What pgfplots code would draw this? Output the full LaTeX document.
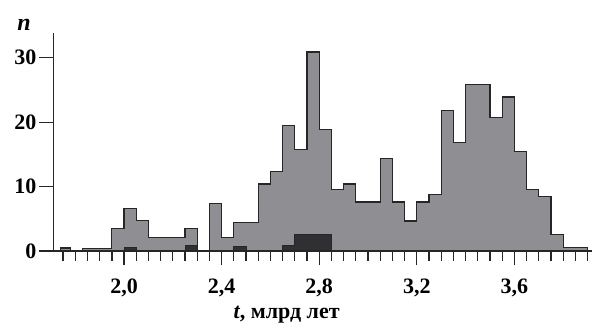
\documentclass[border=0pt]{standalone}
\usepackage{pgfplots}
\pgfplotsset{compat=1.18}
\usepackage{fontspec}
\setmainfont{Liberation Serif}
\definecolor{histgray}{RGB}{142,142,147}
\definecolor{histdark}{RGB}{48,48,51}
\definecolor{edge}{RGB}{38,38,38}
\begin{document}
\begin{tikzpicture}
\begin{axis}[
  scale only axis,
  width=538.7pt, height=217.7pt,
  xmin=1.71, xmax=3.918, ymin=0, ymax=33.8,
  axis x line=bottom, axis y line=left,
  axis line style={-, line width=1.3pt, color=edge},
  axis on top,
  clip=false,
  tick align=outside,
  xtick={2.0,2.4,2.8,3.2,3.6},
  xticklabels={{2,0},{2,4},{2,8},{3,2},{3,6}},
  minor xtick={1.75,1.80,1.85,1.90,1.95,2.05,2.10,2.15,2.20,2.25,2.30,2.35,2.45,2.50,2.55,2.60,2.65,2.70,2.75,2.85,2.90,2.95,3.00,3.05,3.10,3.15,3.25,3.30,3.35,3.40,3.45,3.50,3.55,3.65,3.70,3.75,3.80,3.85,3.90},
  ytick={0,10,20,30},
  major tick length=14.5pt, minor tick length=10pt,
  every tick/.style={edge, line width=1.3pt},
  /pgf/number format/assume math mode=true,
  ticklabel style={font=\fontsize{22}{25}\selectfont\bfseries},
  xticklabel style={yshift=-10pt},
  yticklabel style={xshift=1pt},
]
\addplot[const plot, fill=histgray, draw=edge, line width=1.2pt] coordinates {
(1.74,0.45) (1.78,0) (1.83,0.4) (1.95,3.5) (2.00,6.6) (2.05,4.7) (2.10,2.1)
(2.25,3.5) (2.30,0) (2.35,7.4) (2.40,2.1) (2.45,4.45) (2.55,10.4) (2.60,12.4)
(2.65,19.5) (2.70,15.8) (2.75,30.9) (2.80,18.9) (2.85,9.5) (2.90,10.4) (2.95,7.6)
(3.05,14.3) (3.10,7.6) (3.15,4.66) (3.20,7.6) (3.25,8.8) (3.30,21.8) (3.35,16.8)
(3.40,25.9) (3.50,20.7) (3.55,23.9) (3.60,15.5) (3.65,9.6) (3.70,8.5) (3.75,2.5)
(3.80,0.5) (3.90,0.5) (3.90,0)
} \closedcycle;
\addplot[const plot, fill=histdark, draw=edge, line width=1.0pt] coordinates {
(2.00,0.6) (2.05,0) (2.25,0.8) (2.30,0) (2.45,0.7) (2.50,0) (2.65,0.8) (2.70,2.6) (2.85,2.6) (2.85,0)
} \closedcycle;
\end{axis}
\node[font=\fontsize{24}{27}\selectfont\bfseries\itshape] at (-29.3pt,226pt) {n};
\node[font=\fontsize{22}{25}\selectfont\bfseries] at (233.4pt,-64pt) {\textit{t}, млрд лет};
\pgfresetboundingbox
\useasboundingbox (-53.3pt,-80pt) rectangle (538.7pt,251pt);
\end{tikzpicture}
\end{document}
